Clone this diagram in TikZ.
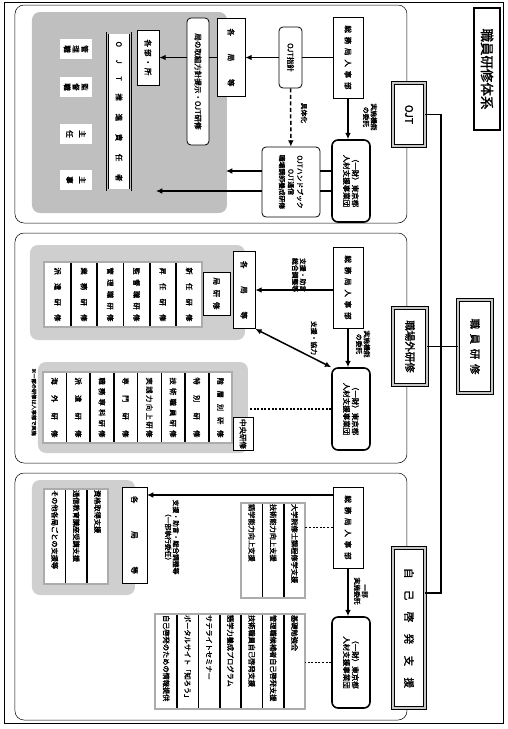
\documentclass[tikz,border=0pt]{standalone}
\usepackage{fontspec}
\setmainfont{Noto Sans CJK JP}[AutoFakeBold=1.6]
\usetikzlibrary{arrows.meta,positioning,calc}
\newcommand{\spread}[2]{\makebox[#1][s]{#2}}
\tikzset{
 headbox/.style={draw,line width=2pt,fill=white,minimum width=122pt,minimum height=26pt,
             font=\fontsize{13.5}{16}\selectfont\bfseries},
 catbox/.style={draw,line width=0.5pt,double=gray!45,double distance=2.5pt,fill=white,
             inner sep=2pt,font=\fontsize{10.5}{12}\selectfont\bfseries},
 panel/.style={draw,line width=0.5pt,rounded corners=9pt},
 shade/.style={fill=gray!38,rounded corners=8pt},
 box/.style={draw,line width=0.8pt,fill=white,inner sep=1pt,align=center,
             font=\fontsize{7.5}{8.8}\selectfont\bfseries},
 rbox/.style={box,rounded corners=4pt},
 fundbox/.style={box,line width=1.6pt,rounded corners=6pt},
 dbox/.style={box,line width=0.5pt,double=gray!50,double distance=1.2pt},
 item/.style={draw,line width=0.6pt,fill=white,inner sep=1pt,
             font=\fontsize{7.2}{8.6}\selectfont\bfseries},
 kkitem/.style={item,minimum width=65pt,minimum height=25.7pt},
 ckitem/.style={item,minimum width=71pt,minimum height=23.1pt},
 sitem/.style={item,text width=93pt,align=left,minimum height=20.8pt},
 itemgroup/.style={draw=gray!65,line width=2pt},
 lbl/.style={align=center,inner sep=0.5pt,font=\fontsize{6.8}{7.8}\selectfont\bfseries},
 arrow/.style={-{Latex[length=2.2mm,width=2mm]},line width=1.5pt},
 dblarrow/.style={{Latex[length=2.2mm,width=2mm]}-{Latex[length=2.2mm,width=2mm]},line width=1.5pt},
 link/.style={line width=1.5pt},
 busline/.style={line width=1.8pt},
 dotlink/.style={line width=1.8pt,dash pattern=on 2pt off 1.6pt}
}
\begin{document}
\begin{tikzpicture}
\useasboundingbox (-507pt,0pt) rectangle (0pt,-729pt);
\begin{scope}[rotate=-90,transform shape,x=1pt,y=-1pt]
\draw[line width=0.4pt] (2,4) rectangle (723,503);
\node[headbox] (head) at (69,20) {職員研修体系};

% panels and shaded areas
\draw[panel] (5,100) rectangle (223,492);
\draw[panel] (233,100) rectangle (463,492);
\draw[panel] (473,100) rectangle (720,492);
\path[shade,fill=gray!50] (12,280) rectangle (213,475);
\path[shade] (245,262) rectangle (340,477);
\path[shade] (362,259) rectangle (453,469);
\path[shade] (480,372) rectangle (595,475);

% top level
\node[catbox,minimum width=93pt,minimum height=34pt] (root) at (346.5,32) {\spread{56pt}{職 員 研 修}};
\node[catbox,minimum width=63pt,minimum height=32pt] (ojt) at (114.5,98) {OJT};
\node[catbox,minimum width=77pt,minimum height=34pt] (gai) at (346.5,97) {職場外研修};
\node[catbox,minimum width=160pt,minimum height=32pt] (jiko) at (628,98) {\spread{120pt}{自 己 啓 発 支 援}};
\coordinate (bus) at (346.5,66);
\coordinate (jikotop) at (593,82);
\draw[busline] (root) -- (gai);
\draw[busline] (ojt.north) -- (ojt.north |- bus) -- (jikotop |- bus) -- (jikotop);

% OJT
\node[box,minimum width=81pt,minimum height=30pt] (jinji1) at (57.5,159) {\spread{64pt}{総 務 局 人 事 部}};
\node[rbox,minimum width=61pt,minimum height=23pt] (shishin) at (57.5,216.5) {OJT指針};
\node[box,minimum width=78pt,minimum height=28pt] (kyoku1) at (57.5,276) {\spread{58pt}{各 局 等}};
\node[rbox,minimum width=127pt,minimum height=22pt] (torikumi) at (81.5,309) {局の取組方針提示・OJT研修};
\node[box,minimum width=55pt,minimum height=22pt] (kakubu) at (57.5,359) {\spread{36pt}{各 部 ・ 所}};
\node[dbox,minimum width=157pt,minimum height=23pt] (suishin) at (111.5,388) {\spread{140pt}{O J T 推 進 責 任 者}};
\node[dbox,minimum width=22pt,minimum height=34pt] (kanri) at (49,431) {管\\理\\職};
\node[dbox,minimum width=22pt,minimum height=34pt] (kantoku) at (87,431) {監\\督\\職};
\node[dbox,minimum width=22pt,minimum height=34pt] (shunin) at (134,431) {主\\[4pt]任};
\node[dbox,minimum width=22pt,minimum height=34pt] (shuji) at (180,431) {主\\[4pt]事};
\node[fundbox,minimum width=82pt,minimum height=38pt] (zaidan1) at (181,156) {（一財）東京都\\人材支援事業団};
\node[rbox,minimum width=70pt,minimum height=58pt,font=\fontsize{6.8}{9}\selectfont\bfseries] (handbook) at (182,216)
  {OJTハンドブック\\OJT通信\\職場講師養成研修};
\coordinate (hbend1) at (171,281);
\coordinate (hbend2) at (191,351);
\draw[link] (jinji1) -- (shishin);
\draw[arrow] (shishin) -- (kyoku1);
\draw[link] (kyoku1) -- (kyoku1 |- torikumi.north);
\draw[arrow] (kyoku1 |- torikumi.south) -- (kakubu);
\draw[arrow] (jinji1) -- (jinji1 -| zaidan1.west);
\node[lbl] at (117,137) {実施機能\\の委託};
\draw[arrow,dash pattern=on 4pt off 2.5pt] (shishin) -- (handbook);
\node[lbl] at (113,203) {具体化};
\draw[link] (hbend1 |- zaidan1.south) -- (hbend1 |- handbook.north);
\draw[link] (hbend2 |- zaidan1.south) -- (hbend2 |- handbook.north);
\draw[arrow] (hbend1 |- handbook.south) -- (hbend1);
\draw[arrow] (hbend2 |- handbook.south) -- (hbend2);

% off-the-job training
\node[box,minimum width=81pt,minimum height=30pt] (jinji2) at (287.5,159) {\spread{64pt}{総 務 局 人 事 部}};
\node[box,minimum width=77pt,minimum height=22pt] (kyoku2) at (290,263) {\spread{58pt}{各 局 等}};
\node[box,minimum width=43pt,minimum height=27pt] (kyokuken) at (293.5,290.5) {\spread{32pt}{局 研 修}};
\node[kkitem] (kk1) at (294.5,317.85) {\spread{54pt}{新 任 研 修}};
\node[kkitem,below=0pt of kk1] (kk2) {\spread{54pt}{昇 任 研 修}};
\node[kkitem,below=0pt of kk2] (kk3) {\spread{54pt}{監 督 職 研 修}};
\node[kkitem,below=0pt of kk3] (kk4) {\spread{54pt}{管 理 職 研 修}};
\node[kkitem,below=0pt of kk4] (kk5) {\spread{54pt}{業 務 研 修}};
\node[kkitem,below=0pt of kk5] (kk6) {\spread{54pt}{派 遣 研 修}};
\draw[itemgroup] (kk1.north west) rectangle (kk6.south east);
\node[fundbox,minimum width=82pt,minimum height=38pt] (zaidan2) at (409,156) {（一財）東京都\\人材支援事業団};
\node[box,minimum width=33pt,minimum height=20pt] (chuo) at (434,264) {中央研修};
\node[ckitem] (ck1) at (407.5,286.55) {\spread{60pt}{階 層 別 研 修}};
\node[ckitem,below=0pt of ck1] (ck2) {\spread{60pt}{特 別 研 修}};
\node[ckitem,below=0pt of ck2] (ck3) {\spread{60pt}{技 術 職 員 研 修}};
\node[ckitem,below=0pt of ck3] (ck4) {\spread{60pt}{実 践 力 向 上 研 修}};
\node[ckitem,below=0pt of ck4] (ck5) {\spread{60pt}{専 門 研 修}};
\node[ckitem,below=0pt of ck5] (ck6) {\spread{60pt}{職 務 専 科 研 修}};
\node[ckitem,below=0pt of ck6] (ck7) {\spread{60pt}{派 遣 研 修}};
\node[ckitem,below=0pt of ck7] (ck8) {\spread{60pt}{海 外 研 修}};
\draw[itemgroup] (ck1.north west) rectangle (ck8.south east);
\node[lbl,font=\fontsize{5.2}{6}\selectfont\bfseries] (note) at (402,473) {※一部の研修は人事部で実施};
\coordinate (chuoin) at (409,258);
\draw[arrow] (jinji2.south -| kyoku2) -- (kyoku2);
\node[lbl] at (275,208) {支援・助言\\総合調整等};
\draw[dblarrow] (kyoku2.north east) -- (zaidan2.south west);
\node[lbl] at (338,193) {支援・協力};
\draw[arrow] (jinji2) -- (jinji2 -| zaidan2.west);
\node[lbl] at (344,144) {実施機能\\の委託};
\draw[dotlink] (zaidan2) -- (chuoin);

% self-development
\node[box,minimum width=81pt,minimum height=30pt] (jinji3) at (527.5,159) {\spread{64pt}{総 務 局 人 事 部}};
\node[box,minimum width=96pt,minimum height=25pt] (kyoku3) at (535,372.5) {\spread{78pt}{各 局 等}};
\node[sitem] (ks1) at (536.5,409.4) {資格取得支援};
\node[sitem,below=0pt of ks1] (ks2) {通信教育講座受講支援};
\node[sitem,below=0pt of ks2] (ks3) {その他各局ごとの支援等};
\draw[itemgroup] (ks1.north west) rectangle (ks3.south east);
\node[sitem] (ja1) at (550.5,212.4) {大学院修士課程修学支援};
\node[sitem,below=0pt of ja1] (ja2) {技術能力向上支援};
\node[sitem,below=0pt of ja2] (ja3) {語学能力向上支援};
\draw[itemgroup] (ja1.north west) rectangle (ja3.south east);
\node[fundbox,minimum width=91pt,minimum height=38pt] (zaidan3) at (662.5,156) {（一財）東京都\\人材支援事業団};
\node[sitem] (zb1) at (661.5,212.4) {基礎勉強会};
\node[sitem,below=0pt of zb1] (zb2) {管理職候補者自己啓発支援};
\node[sitem,below=0pt of zb2] (zb3) {技術職員自己啓発支援};
\node[sitem,below=0pt of zb3] (zb4) {語学力養成プログラム};
\node[sitem,below=0pt of zb4] (zb5) {サテライトセミナー};
\node[sitem,below=0pt of zb5] (zb6) {ポータルサイト「知ろう」};
\node[sitem,below=0pt of zb6] (zb7) {自己啓発のための情報提供};
\draw[itemgroup] (zb1.north west) rectangle (zb7.south east);
\coordinate (k3in) at (495,360);
\draw[arrow] (k3in |- jinji3.south) -- (k3in);
\node[lbl,anchor=west] at (499,335) {支援・助言・総合調整等\\（一部執行委任）};
\draw[dotlink] (jinji3) -- (jinji3 |- ja1.north);
\draw[arrow] (jinji3) -- (jinji3 -| zaidan3.west);
\node[lbl] at (591,146) {一部\\実施委託};
\draw[dotlink] (zaidan3) -- (zaidan3 |- zb1.north);
\end{scope}
\end{tikzpicture}
\end{document}
